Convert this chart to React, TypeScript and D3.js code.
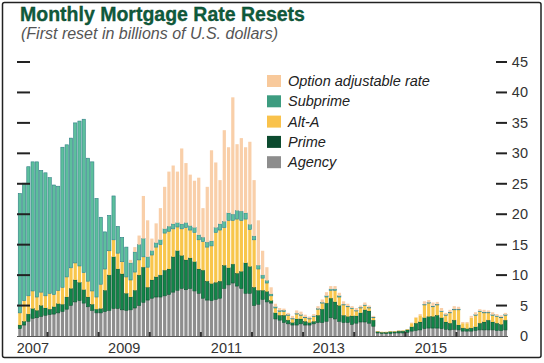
import React, { useMemo } from 'react';
import * as d3 from 'd3';

// monthly buckets Jun 2007 .. Dec 2016
const MONTHS = d3.timeMonth.range(new Date(2007, 5, 1), new Date(2017, 0, 1));
const fmt = d3.timeFormat('%Y-%m');

const agency = [
  1.2, 1.8, 2.4, 2.9, 3.0, 3.2, 3.4, 3.5, 3.6, 3.8,
  4.0, 4.4, 5.0, 5.6, 5.8, 5.4, 4.8, 4.2, 3.8, 3.8,
  4.0, 4.2, 4.5, 4.5, 4.3, 4.2, 4.3, 4.6, 5.0, 5.5,
  5.9, 6.2, 6.4, 6.4, 6.6, 6.8, 7.2, 7.5, 7.8, 7.6,
  7.8, 7.4, 7.0, 6.2, 5.9, 5.8, 6.0, 6.2, 7.8, 8.4,
  8.7, 8.2, 7.8, 7.0, 7.0, 5.0, 5.2, 6.0, 5.6, 5.4,
  2.8, 2.6, 2.2, 2.0, 1.8, 1.8, 2.0, 1.8, 1.8, 2.0,
  2.2, 2.2, 2.4, 3.0, 2.8, 2.4, 2.2, 2.2, 1.9, 2.1,
  2.3, 2.3, 2.1, 1.6, 0.5, 0.4, 0.4, 0.4, 0.5, 0.5,
  0.5, 0.6, 0.8, 0.9, 1.0, 1.2, 1.3, 1.3, 1.3, 1.2,
  1.1, 1.0, 1.1, 1.0, 0.8, 0.8, 0.8, 0.9, 1.0, 1.0,
  1.0, 1.0, 0.9, 0.9, 1.0,
];
const prime = [
  0.6, 0.6, 1.2, 1.6, 1.2, 1.8, 1.2, 0.9, 1.2, 1.5,
  1.2, 2.0, 2.8, 3.6, 3.0, 2.2, 1.6, 1.0, 0.6, 0.7,
  3.5, 5.8, 8.5, 6.5, 5.9, 2.8, 2.1, 2.9, 5.0, 5.8,
  2.1, 3.0, 3.3, 3.6, 4.2, 4.2, 5.8, 6.5, 5.4, 4.9,
  5.0, 4.8, 4.0, 4.6, 3.1, 2.8, 2.8, 2.8, 3.8, 2.8,
  3.1, 2.1, 2.8, 5.0, 4.4, 3.0, 2.3, 1.5, 1.7, 0.4,
  1.0, 0.8, 1.2, 0.6, 0.4, 1.0, 0.8, 0.6, 0.4, 0.4,
  1.2, 2.2, 3.0, 3.2, 2.8, 2.6, 1.2, 1.0, 1.4, 1.2,
  1.5, 2.0, 2.0, 1.0, 0.2, 0.2, 0.2, 0.3, 0.2, 0.3,
  0.3, 0.4, 0.7, 1.2, 1.3, 1.8, 1.9, 1.9, 2.1, 1.8,
  1.2, 1.1, 1.5, 0.8, 0.5, 0.4, 0.5, 0.6, 1.1, 1.3,
  1.6, 1.3, 1.2, 1.0, 1.6,
];
const altA = [
  2.0, 3.4, 3.0, 2.9, 2.2, 2.2, 2.0, 2.6, 2.0, 2.2,
  2.8, 3.3, 3.4, 2.8, 2.7, 2.8, 2.6, 2.2, 2.0, 4.0,
  3.5, 4.0, 2.8, 2.6, 2.0, 2.7, 2.8, 3.0, 2.5, 1.7,
  3.3, 4.1, 4.9, 5.0, 6.1, 6.2, 4.6, 3.9, 4.4, 5.3,
  4.6, 4.8, 4.8, 4.7, 5.6, 6.2, 8.2, 8.4, 6.2, 7.8,
  7.2, 8.9, 8.4, 7.2, 6.1, 7.8, 3.5, 2.0, 1.4, 0.8,
  0.8, 0.6, 0.6, 0.8, 0.6, 0.8, 0.6, 0.6, 0.6, 0.8,
  1.0, 1.0, 1.0, 1.3, 1.9, 1.4, 1.7, 1.6, 1.2, 0.8,
  0.8, 0.7, 0.5, 0.4, 0.1, 0.1, 0.1, 0.1, 0.1, 0.1,
  0.1, 0.1, 0.6, 0.9, 1.1, 2.1, 2.2, 1.6, 1.7, 1.0,
  1.1, 1.7, 1.7, 2.5, 0.8, 0.9, 1.7, 1.9, 1.9, 1.5,
  1.2, 1.1, 1.1, 1.1, 0.8,
];
const subprime = [
  19.6, 19.3, 21.2, 21.2, 22.2, 20.0, 20.2, 19.0, 18.0, 17.1,
  23.0, 21.7, 21.3, 23.0, 23.8, 25.2, 20.2, 21.2, 16.2, 11.0,
  6.1, 5.8, 7.2, 4.4, 4.0, 4.9, 2.8, 3.3, 2.5, 3.0,
  1.7, 0.7, 0.7, 0.8, 0.7, 0.8, 0.8, 0.7, 0.8, 0.8,
  0.7, 0.8, 0.8, 0.7, 0.8, 0.8, 0.8, 1.0, 1.0, 1.2,
  1.0, 1.4, 1.5, 1.0, 0.8, 0.6, 0.6, 0.5, 0.4, 0.3,
  0.2, 0.2, 0.2, 0.1, 0.1, 0.1, 0.1, 0.1, 0.1, 0.1,
  0.1, 0.1, 0.2, 0.2, 0.2, 0.2, 0.1, 0.1, 0.1, 0.1,
  0.1, 0.1, 0.1, 0.1, 0, 0, 0, 0, 0, 0,
  0, 0, 0, 0, 0, 0.1, 0.1, 0.1, 0.1, 0.1,
  0.1, 0.1, 0.1, 0.1, 0, 0, 0, 0.1, 0.1, 0.1,
  0.1, 0.1, 0.1, 0.1, 0.1,
];
const optionArm = [
  0, 0, 0, 0, 0, 0, 0, 0, 0, 0,
  0, 0, 0, 0, 0, 0, 0, 0, 0, 0,
  0, 0, 0, 0, 0, 0, 0.5, 0.8, 1.5, 7.0,
  6.0, 2.0, 3.2, 5.2, 6.9, 9.0, 9.6, 8.4, 12.4, 9.8,
  8.4, 7.7, 9.4, 4.8, 9.1, 14.9, 10.7, 7.2, 15.0, 10.8,
  19.2, 10.9, 12.0, 10.8, 13.6, 9.2, 7.4, 4.0, 2.2, 1.1,
  0.5, 0.4, 0.3, 0.3, 0.4, 0.5, 0.5, 0.4, 0.3, 0.3,
  0.4, 0.5, 0.6, 0.5, 0.5, 0.5, 0.5, 0.4, 0.3, 0.4,
  0.3, 0.4, 0.3, 0.2, 0, 0, 0, 0, 0, 0,
  0, 0, 0.1, 0.1, 0.2, 0.5, 0.4, 0.6, 0.4, 0.5,
  0.3, 0.4, 0.5, 0.4, 0.2, 0.2, 0.3, 0.4, 0.3, 0.4,
  0.3, 0.4, 0.3, 0.3, 0.3,
];

const Y_TICKS = [0, 5, 10, 15, 20, 25, 30, 35, 40, 45];
const YEAR_LABELS = [2007, 2009, 2011, 2013, 2015];

const KEYS = ['agency', 'prime', 'altA', 'subprime', 'optionArm'];
const STYLE = {
  agency: { fill: '#8e8e8e', stroke: 'none' },
  prime: { fill: '#118447', stroke: '#0a4a2c' },
  altA: { fill: '#f8c64c', stroke: 'none' },
  subprime: { fill: '#5cbf9c', stroke: '#2f7f86' },
  optionArm: { fill: '#f9cfa9', stroke: 'none' },
};
const LEGEND = [
  { key: 'optionArm', label: 'Option adjustable rate', swatch: '#f8c99b' },
  { key: 'subprime', label: 'Subprime', swatch: '#3d9c80' },
  { key: 'altA', label: 'Alt-A', swatch: '#f9c24b' },
  { key: 'prime', label: 'Prime', swatch: '#0c4b2f' },
  { key: 'agency', label: 'Agency', swatch: '#8d8d8d' },
];

const W = 544;
const H = 363;
const FONT = 'Liberation Sans, Arial, Helvetica, sans-serif';

export default function App() {
  const rows = useMemo(
    () => MONTHS.map((d, i) => ({
      month: fmt(d),
      agency: agency[i],
      prime: prime[i],
      altA: altA[i],
      subprime: subprime[i],
      optionArm: optionArm[i],
    })),
    [],
  );
  const series = useMemo(() => d3.stack().keys(KEYS)(rows), [rows]);

  const x = d3.scaleBand().domain(rows.map((r) => r.month)).range([18.25, 507]).paddingInner(0.24).paddingOuter(0);
  const y = d3.scaleLinear().domain([0, 45]).range([336, 62]);
  const half = (x.step() * x.paddingInner()) / 2;
  const yearStart = (yr) => {
    const k = `${yr}-01`;
    return x(k) !== undefined ? x(k) - half : x.range()[0];
  };
  const yearEnd = (yr) => {
    const k = `${yr + 1}-01`;
    return x(k) !== undefined ? x(k) - half : x.range()[1];
  };
  const yearTicks = d3.range(2008, 2017).map(yearStart);

  return (
    <svg width={W} height={H} style={{ position: 'absolute', left: 0, top: 0, background: '#fff' }} fontFamily={FONT}>
      <rect x={0} y={0} width={W} height={H} fill="#fff" />
      <text x={20} y={21} fontSize={19.5} fontWeight="bold" fill="#0f5c3c" stroke="#0a3f2a" strokeWidth={0.3}>
        Monthly Mortgage Rate Resets
      </text>
      <text x={21} y={38.5} fontSize={16} fontStyle="italic" fill="#555">
        (First reset in billions of U.S. dollars)
      </text>

      {series.map((s) => (
        <g key={s.key} fill={STYLE[s.key].fill} stroke={STYLE[s.key].stroke} strokeWidth={0.6}>
          {s.map((d) => {
            const h = y(d[0]) - y(d[1]);
            if (h <= 0) return null;
            return <rect key={d.data.month} x={x(d.data.month)} y={y(d[1])} width={x.bandwidth()} height={h} />;
          })}
        </g>
      ))}

      <line x1={17} x2={508} y1={336.5} y2={336.5} stroke="#555" strokeWidth={1.2} />
      {yearTicks.map((tx, i) => (
        <rect key={i} x={tx - 1} y={332} width={2} height={5} fill="#333" />
      ))}

      {Y_TICKS.filter((t) => t > 0).map((t) => (
        <g key={t}>
          <line x1={17} x2={30} y1={y(t)} y2={y(t)} stroke="#222" strokeWidth={2} />
          <line x1={496} x2={507} y1={y(t)} y2={y(t)} stroke="#222" strokeWidth={2} />
        </g>
      ))}
      {Y_TICKS.map((t) => (
        <text key={t} x={528} y={y(t) + 5} fontSize={14.5} fill="#333" textAnchor="end">
          {t}
        </text>
      ))}

      {YEAR_LABELS.map((yr) => (
        <text key={yr} x={(yearStart(yr) + yearEnd(yr)) / 2} y={353} fontSize={14.5} fill="#333" textAnchor="middle">
          {yr}
        </text>
      ))}

      {LEGEND.map((l, i) => (
        <g key={l.key} transform={`translate(267, ${75 + i * 20.3})`}>
          <rect x={0} y={0} width={14} height={12} fill={l.swatch} />
          <text x={21} y={11} fontSize={14.5} fontStyle="italic" fill="#222">
            {l.label}
          </text>
        </g>
      ))}

      <rect x={2.5} y={2.5} width={538.5} height={355} fill="none" stroke="#222" strokeWidth={1.5} rx={2} />
    </svg>
  );
}
